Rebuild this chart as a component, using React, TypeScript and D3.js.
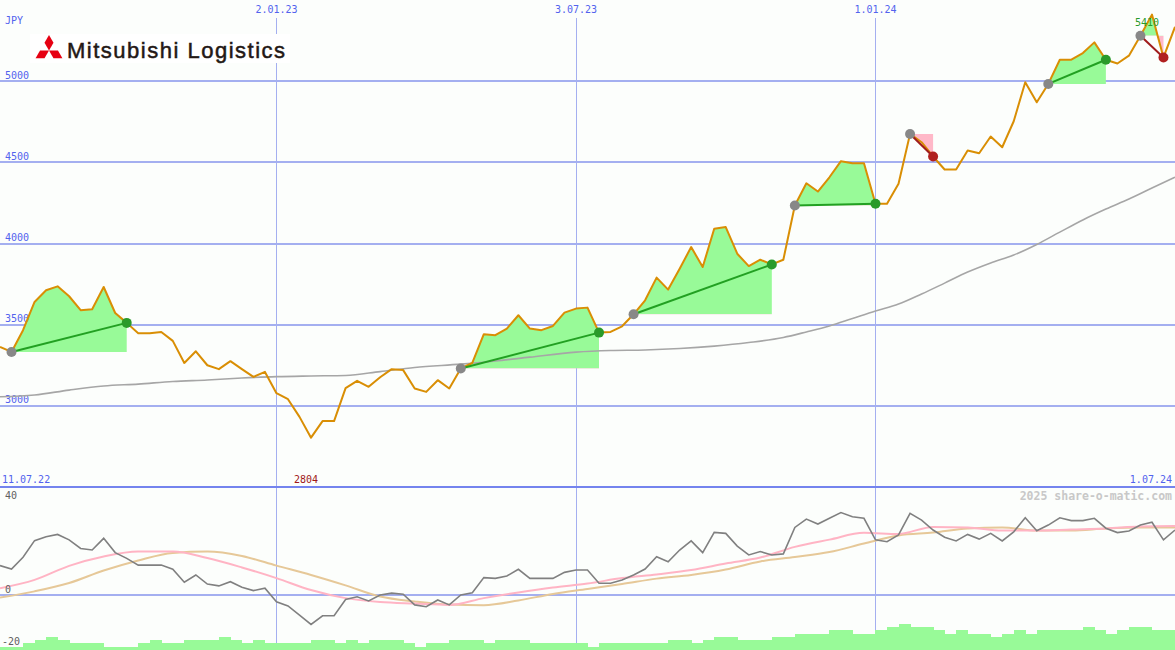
import * as d3 from "d3";

const W = 1175;
const H = 650;

// weekly closes, JPY
const price = [
  3363, 3332, 3466, 3640, 3712, 3736, 3675, 3589, 3595, 3732, 3572, 3511, 3447, 3447, 3455, 3400,
  3264, 3336, 3250, 3226, 3275, 3226, 3178, 3209, 3078, 3041, 2932, 2804, 2906, 2906, 3109, 3154,
  3117, 3176, 3226, 3220, 3107, 3086, 3158, 3107, 3230, 3264, 3441, 3435, 3476, 3558, 3476, 3466,
  3492, 3574, 3599, 3605, 3451, 3455, 3490, 3564, 3650, 3790, 3716, 3845, 3978, 3855, 4091, 4101,
  3937, 3861, 3900, 3871, 3900, 4234, 4371, 4320, 4408, 4507, 4494, 4494, 4245, 4245, 4368, 4675,
  4624, 4536, 4456, 4456, 4573, 4556, 4659, 4593, 4753, 4993, 4870, 4983, 5132, 5132, 5173, 5239,
  5132, 5109, 5157, 5280, 5410, 5146, 5335,
];

// long moving average (sampled weeks)
const maIdx = [0, 3, 6, 9, 12, 15, 18, 21, 24, 27, 30, 33, 36, 40, 43, 46, 50, 53, 56, 59, 62, 65, 68, 70, 72, 74, 76, 78, 80, 82, 84, 86, 88, 90, 92, 94, 96, 98, 100, 102];
const maVal = [3056, 3067, 3097, 3122, 3134, 3150, 3159, 3171, 3180, 3184, 3187, 3211, 3236, 3257, 3276, 3300, 3331, 3341, 3344, 3353, 3368, 3390, 3421, 3455, 3492, 3538, 3584, 3627, 3689, 3756, 3824, 3880, 3929, 3994, 4070, 4145, 4212, 4274, 4342, 4409];

// trend segments (start / end week)
const segStart = [1, 40, 55, 69, 79, 91, 99];
const segEnd = [11, 52, 67, 76, 81, 96, 101];

// oscillator panel
const osc = [
  11.3, 10, 14.5, 20.9, 22.4, 23.3, 21.2, 17.9, 17.3, 21.8, 16.3, 14.1, 11.5, 11.5, 11.5, 9.9,
  4.9, 7.7, 4.2, 3.5, 5.1, 3.0, 1.7, 2.6, -2.6, -4.2, -7.7, -11.3, -8.0, -8.0, -1.7, -0.7,
  -2.3, 0, 0.7, 0.3, -3.8, -4.5, -1.9, -3.8, 0, 0.9, 6.7, 6.4, 7.3, 9.9, 6.4, 6.4,
  6.4, 8.7, 9.6, 9.6, 4.5, 4.5, 5.8, 7.7, 10, 14.7, 12.8, 17.3, 20.8, 16.3, 24.1, 23.7,
  18.8, 15.4, 16.7, 15.4, 15.8, 26, 29.2, 27.3, 29.5, 31.7, 30.1, 29.5, 21.2, 20.5, 23.1, 31.4,
  28.8, 25, 22.2, 20.8, 23.3, 21.5, 23.7, 20.8, 24.3, 29.7, 24.7, 26.9, 29.7, 28.6, 28.6, 29.5,
  25.7, 24, 24.6, 26.9, 28, 21.2, 25,
];
const sigIdx = [0, 3, 6, 9, 12, 15, 18, 21, 24, 27, 30, 33, 36, 39, 42, 45, 48, 51, 54, 57, 60, 63, 66, 69, 72, 75, 78, 81, 84, 87, 90, 93, 96, 99, 102];
const sigFast = [2.6, 5.8, 11.2, 14.8, 16.7, 16.7, 14.2, 10.6, 6.5, 1.9, -1.2, -2.7, -3.3, -3.8, -1.2, 1.0, 2.9, 4.4, 6.5, 7.9, 9.6, 12.1, 14.4, 18.5, 21.3, 23.9, 23.5, 26.2, 26, 24.8, 24.8, 25.2, 25.6, 26.3, 26.5];
const sigSlow = [-1.0, 1.4, 4.6, 9.4, 13.3, 16.2, 16.7, 15.0, 11.3, 7.7, 3.7, -0.6, -2.5, -3.7, -3.9, -2.1, 0.4, 2.3, 4.2, 6.3, 7.7, 9.8, 12.9, 14.6, 16.5, 19.8, 22.9, 24.0, 25.6, 26.0, 24.8, 24.8, 25.6, 26, 26];

// volume (relative)
const volume = [
  10, 10, 20, 30, 40, 30, 20, 20, 20, 10, 10, 10, 20, 30, 20, 20,
  30, 30, 30, 40, 30, 20, 30, 20, 20, 20, 20, 30, 30, 20, 30, 20,
  30, 30, 30, 20, 10, 20, 20, 30, 30, 30, 20, 30, 30, 30, 20, 20,
  20, 20, 20, 10, 20, 20, 20, 20, 20, 20, 30, 30, 20, 30, 40, 40,
  30, 30, 30, 40, 40, 50, 50, 50, 60, 60, 50, 50, 60, 70, 80, 70,
  70, 60, 50, 60, 50, 50, 40, 50, 60, 50, 60, 60, 60, 60, 70, 60,
  50, 60, 70, 70, 60, 60,
];

const dateTop = ["2.01.23", "3.07.23", "1.01.24"];
const dateTopIdx = [24, 50, 76];
const priceTicks = [3000, 3500, 4000, 4500, 5000];
const oscTicks = [40, 0, -20];

const BLUE = "#5263ee";
const GRID = "#a4aff0";
const MONO = "'DejaVu Sans Mono', monospace";

export default function App() {
  const panelBottom = 487;
  const x = d3.scaleLinear().domain([0, price.length - 1]).range([0, W]);
  const y = d3.scaleLinear().domain([2500, 5500]).range([panelBottom, 0]);
  const yo = d3.scaleLinear().domain([-20, 40]).range([647, 491]);
  const yv = d3.scaleLinear().domain([0, 100]).range([H, H - 33]);

  const priceLine = d3.line<number>().x((_, i) => x(i)).y((d) => y(d))(price) ?? "";
  const maLine = d3.line<number>().x((_, i) => x(maIdx[i])).y((d) => y(d)).curve(d3.curveMonotoneX)(maVal) ?? "";
  const oscLine = d3.line<number>().x((_, i) => x(i)).y((d) => yo(d))(osc) ?? "";
  const fastLine = d3.line<number>().x((_, i) => x(sigIdx[i])).y((d) => yo(d)).curve(d3.curveMonotoneX)(sigFast) ?? "";
  const slowLine = d3.line<number>().x((_, i) => x(sigIdx[i])).y((d) => yo(d)).curve(d3.curveMonotoneX)(sigSlow) ?? "";

  const maxI = d3.maxIndex(price);
  const minI = d3.minIndex(price);

  // Mitsubishi three-diamond mark
  const cx = 49, cy = 50.5, L = 15.5, hw = 4.5;
  const diamonds = [-90, 150, 30].map((deg) => {
    const a = (deg * Math.PI) / 180;
    const dx = Math.cos(a), dy = Math.sin(a);
    const nx = -dy, ny = dx;
    const mx = cx + (dx * L) / 2, my = cy + (dy * L) / 2;
    return `M${cx},${cy}L${mx + nx * hw},${my + ny * hw}L${cx + dx * L},${cy + dy * L}L${mx - nx * hw},${my - ny * hw}Z`;
  });

  return (
    <svg
      width={W}
      height={H}
      viewBox={`0 0 ${W} ${H}`}
      style={{ position: "absolute", left: 0, top: 0, display: "block", background: "#fcfefc" }}
    >
      <defs>
        {segStart.map((s, k) => (
          <g key={k}>
            <clipPath id={`up${k}`}>
              <rect x={0} y={0} width={W} height={y(price[s])} />
            </clipPath>
            <clipPath id={`dn${k}`}>
              <rect x={0} y={y(price[s])} width={W} height={panelBottom - y(price[s])} />
            </clipPath>
          </g>
        ))}
      </defs>

      {/* grid */}
      {priceTicks.map((t) => (
        <line key={t} x1={0} x2={W} y1={y(t)} y2={y(t)} stroke={GRID} strokeWidth={2} shapeRendering="crispEdges" />
      ))}
      <line x1={0} x2={W} y1={yo(0)} y2={yo(0)} stroke={GRID} strokeWidth={2} shapeRendering="crispEdges" />
      {dateTopIdx.map((i) => (
        <line key={i} x1={Math.round(x(i)) + 0.5} x2={Math.round(x(i)) + 0.5} y1={18} y2={H} stroke={GRID} strokeWidth={1} />
      ))}
      <line x1={0} x2={W} y1={panelBottom} y2={panelBottom} stroke="#7484ee" strokeWidth={2} shapeRendering="crispEdges" />

      {/* logo */}
      <rect x={30} y={34} width={260} height={29} fill="#ffffff" />
      {diamonds.map((d, k) => (
        <path key={k} d={d} fill="#e60012" />
      ))}
      <text
        x={67}
        y={58}
        fontFamily="'Liberation Sans', Arial, sans-serif"
        fontSize={22}
        fill="#231815"
        stroke="#231815"
        strokeWidth={0.5}
        textLength={218}
        lengthAdjust="spacing"
      >
        Mitsubishi Logistics
      </text>

      {/* trend fills */}
      {segStart.map((s, k) => {
        const e = segEnd[k];
        const area = d3.area<number>().x((i) => x(i)).y0(y(price[s])).y1((i) => y(price[i]))(d3.range(s, e + 1)) ?? "";
        return (
          <g key={k}>
            <path d={area} fill="#98fa98" clipPath={`url(#up${k})`} />
            <path d={area} fill="#ffb8c8" clipPath={`url(#dn${k})`} />
          </g>
        );
      })}

      {/* tick labels */}
      <text x={5} y={24} fontFamily={MONO} fontSize={10} fill={BLUE}>JPY</text>
      {priceTicks.map((t) => (
        <text key={t} x={5} y={y(t) - 2.5} fontFamily={MONO} fontSize={10} fill={BLUE}>{t}</text>
      ))}
      {dateTopIdx.map((i, k) => (
        <text key={i} x={x(i)} y={13} textAnchor="middle" fontFamily={MONO} fontSize={10} fill={BLUE}>{dateTop[k]}</text>
      ))}
      <text x={2} y={483} fontFamily={MONO} fontSize={10} fill={BLUE}>11.07.22</text>
      <text x={W - 3} y={483} textAnchor="end" fontFamily={MONO} fontSize={10} fill={BLUE}>1.07.24</text>

      {/* price + long average */}
      <path d={maLine} fill="none" stroke="#a6a6a6" strokeWidth={1.6} />
      <path d={priceLine} fill="none" stroke="#d98e04" strokeWidth={2} strokeLinejoin="round" />

      {/* trend lines and markers */}
      {segStart.map((s, k) => {
        const e = segEnd[k];
        const up = price[e] >= price[s];
        return (
          <g key={k}>
            <line x1={x(s)} y1={y(price[s])} x2={x(e)} y2={y(price[e])} stroke={up ? "#22a022" : "#a01c1c"} strokeWidth={2} />
            <circle cx={x(s)} cy={y(price[s])} r={5} fill="#888888" />
            <circle cx={x(e)} cy={y(price[e])} r={5} fill={up ? "#2a9a2a" : "#b02020"} />
          </g>
        );
      })}

      <text x={x(maxI) - 5} y={y(price[maxI]) + 11} textAnchor="middle" fontFamily={MONO} fontSize={10} fill="#2a9a2a">{price[maxI]}</text>
      <text x={x(minI) - 5} y={483} textAnchor="middle" fontFamily={MONO} fontSize={10} fill="#a01818">{price[minI]}</text>

      {/* lower panel */}
      {volume.map((v, i) => (
        <rect key={i} x={x(i)} y={yv(v)} width={x(i + 1) - x(i) + 0.5} height={H - yv(v)} fill="#98fa98" shapeRendering="crispEdges" />
      ))}
      <path d={slowLine} fill="none" stroke="#e6c898" strokeWidth={2} />
      <path d={fastLine} fill="none" stroke="#ffb4c4" strokeWidth={2} />
      <path d={oscLine} fill="none" stroke="#808080" strokeWidth={1.6} />
      {oscTicks.map((t) => (
        <text key={t} x={t < 0 ? 2 : 5} y={Math.max(yo(t) - 2.5, panelBottom + 12)} fontFamily={MONO} fontSize={10} fill="#606060">{t}</text>
      ))}
      <text x={W - 3} y={500} textAnchor="end" fontFamily={MONO} fontSize={11.5} fontWeight="bold" fill="#c8c8c8">2025 share-o-matic.com</text>
    </svg>
  );
}
